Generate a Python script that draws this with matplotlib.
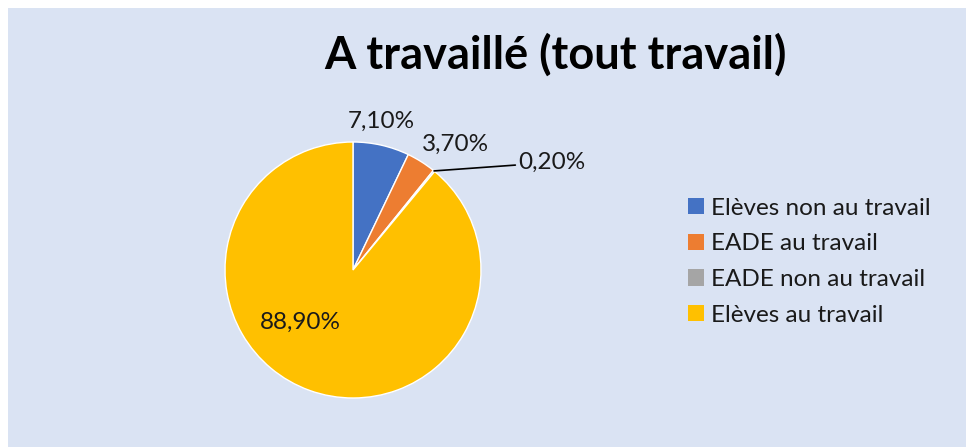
import numpy as np
import matplotlib.pyplot as plt
from matplotlib.patches import Rectangle

# data
categories = ["Elèves non au travail", "EADE au travail", "EADE non au travail", "Elèves au travail"]
values = [7.1, 3.7, 0.2, 88.9]
labels = ["7,10%", "3,70%", "0,20%", "88,90%"]
colors = ["#4472C4", "#ED7D31", "#A5A5A5", "#FFC000"]

plt.rcParams['font.family'] = ['Lato', 'DejaVu Sans']

fig = plt.figure(figsize=(9.66, 4.47), dpi=100)
fig.patch.set_facecolor("white")
fig.patches.append(Rectangle((8 / 966, 0), 1, 1 - 8 / 447, transform=fig.transFigure,
                             facecolor="#DAE3F3", edgecolor="none", zorder=-5))

# pie axes: center (353, 270) px, radius 128 px
ax = fig.add_axes([(353 - 128) / 966, (447 - 270 - 128) / 447, 256 / 966, 256 / 447], zorder=2)
ax.patch.set_visible(False)
wedges, _ = ax.pie(values, colors=colors, startangle=90, counterclock=False, radius=1,
                   wedgeprops=dict(edgecolor="white", linewidth=1))
ax.set_xlim(-1, 1)
ax.set_ylim(-1, 1)
ax.set_aspect("auto")
ax.axis("off")

# label positions (pie radius units)
label_pos = [(0.22, 1.16), (0.80, 0.98), (1.29, 0.84), (-0.41, -0.41)]
for i, w in enumerate(wedges):
    if i == 2:
        mid = np.deg2rad((w.theta1 + w.theta2) / 2)
        ax.annotate(labels[i], xy=(np.cos(mid), np.sin(mid)), xytext=label_pos[i],
                    ha="left", va="center", fontsize=17.5, color="#1a1a1a", annotation_clip=False,
                    arrowprops=dict(arrowstyle="-", color="black", lw=1.2, shrinkA=0, shrinkB=0))
    else:
        ax.text(*label_pos[i], labels[i], ha="center", va="center",
                fontsize=17.5, color="#1a1a1a", clip_on=False)

fig.text(555 / 966, 1 - 55 / 447, "A travaillé (tout travail)", ha="center", va="center",
         fontsize=32.5, fontweight="bold", color="black")

leg = fig.legend(wedges, categories, loc="upper left", bbox_to_anchor=(666 / 966, 1 - 176 / 447),
                 frameon=False, fontsize=17.5, handlelength=0.65, handleheight=0.65,
                 handletextpad=0.3, labelspacing=0.6)
for t in leg.get_texts():
    t.set_color("#1a1a1a")
for h in leg.legend_handles:
    h.set_edgecolor("none")

fig.savefig("out.png", dpi=100, facecolor=fig.get_facecolor())
